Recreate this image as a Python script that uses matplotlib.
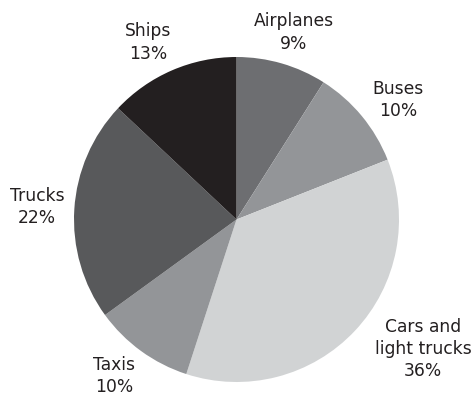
import numpy as np
import matplotlib
matplotlib.use('Agg')
import matplotlib.pyplot as plt

# Data (share of transport, %)
labels = ['Airplanes', 'Buses', 'Cars and\nlight trucks', 'Taxis', 'Trucks', 'Ships']
shares = [9, 10, 36, 10, 22, 13]
colors = ['#6d6e71', '#939598', '#d1d3d4', '#939598', '#58595b', '#231f20']

# label placement relative to the wedge middle (distance in radii, angle tweak in deg)
label_dist = [1.204, 1.236, 1.397, 1.223, 1.23, 1.218]
label_turn = [-0.9, -3.1, 8.4, -2.0, 0.0, 3.2]

fig = plt.figure(figsize=(4.76, 3.96), dpi=100)
ax = fig.add_axes([0, 0, 1, 1])

cx, cy, r = 236.5, 176.5, 162.5
wedges, _ = ax.pie(shares, colors=colors, startangle=90, counterclock=False,
                   center=(cx, cy), radius=r,
                   wedgeprops=dict(linewidth=0))

for w, lab, val, d, t in zip(wedges, labels, shares, label_dist, label_turn):
    ang = np.deg2rad((w.theta1 + w.theta2) / 2 + t)
    x = cx + d * r * np.cos(ang)
    y = cy + d * r * np.sin(ang)
    ax.text(x, y, f'{lab}\n{val}%', ha='center', va='center',
            fontsize=12.3, color='#231f20', family='DejaVu Sans', linespacing=1.3)

ax.set_xlim(0, 476)
ax.set_ylim(0, 396)
ax.set_aspect('equal')
ax.axis('off')

plt.savefig('out.png', dpi=100)
